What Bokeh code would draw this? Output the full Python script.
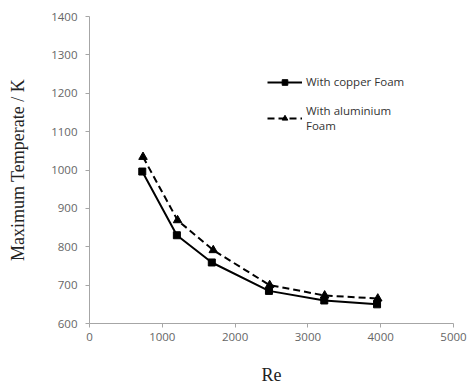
from bokeh.plotting import figure
from bokeh.models import FixedTicker, Legend, LegendItem, Range1d
from bokeh.embed import file_html
from bokeh.resources import INLINE

re_copper = [725, 1200, 1680, 2465, 3225, 3950]
t_copper = [996, 830, 759, 685, 660, 650]
re_alu = [735, 1210, 1700, 2475, 3230, 3960]
t_alu = [1034, 869, 791, 700, 673, 665]
x_ticks = [0, 1000, 2000, 3000, 4000, 5000]
y_ticks = [600, 700, 800, 900, 1000, 1100, 1200, 1300, 1400]

p = figure(width=467, height=388, output_backend="svg", toolbar_location=None,
           x_range=Range1d(0, 5000), y_range=Range1d(600, 1400),
           min_border_left=89, min_border_right=14, min_border_top=16, min_border_bottom=65)
p.outline_line_color = None
p.xgrid.visible = False
p.ygrid.visible = False

for ax in (p.xaxis[0], p.yaxis[0]):
    ax.axis_line_color = "#a6a6a6"
    ax.major_tick_line_color = "#a6a6a6"
    ax.major_tick_out = 4
    ax.major_tick_in = 0
    ax.minor_tick_line_color = None
    ax.major_label_text_font = "Open Sans"
    ax.major_label_text_font_size = "11.5px"
    ax.major_label_text_color = "#666666"
    ax.axis_label_text_font = "Liberation Serif"
    ax.axis_label_text_font_size = "18px"
    ax.axis_label_text_font_style = "normal"
    ax.axis_label_text_color = "#222222"

p.xaxis.ticker = FixedTicker(ticks=x_ticks)
p.yaxis.ticker = FixedTicker(ticks=y_ticks)
p.xaxis.axis_label = "Re"
p.yaxis.axis_label = "Maximum Temperate / K"
p.xaxis.major_label_standoff = 5
p.yaxis.major_label_standoff = 8
p.xaxis.axis_label_standoff = 21
p.yaxis.axis_label_standoff = 20

l1 = p.line(re_copper, t_copper, line_color="black", line_width=2)
m1 = p.scatter(re_copper, t_copper, marker="square", size=7, fill_color="black", line_color="black")
l2 = p.line(re_alu, t_alu, line_color="black", line_width=2, line_dash="7 4")
m2 = p.scatter(re_alu, t_alu, marker="triangle", size=8.5, fill_color="black", line_color="black")

legend = Legend(items=[
    LegendItem(label="With copper Foam", renderers=[l1, m1]),
    LegendItem(label="With aluminium\nFoam", renderers=[l2, m2]),
], location=(178, 190))
legend.border_line_color = None
legend.background_fill_alpha = 0
legend.padding = 0
legend.margin = 0
legend.spacing = 14
legend.glyph_width = 35
legend.label_standoff = 4
legend.label_text_font = "Open Sans"
legend.label_text_font_size = "11.5px"
legend.label_text_color = "#333333"
legend.label_height = 14
legend.glyph_height = 14
p.add_layout(legend)

open("out.html", "w").write(file_html(p, INLINE))
